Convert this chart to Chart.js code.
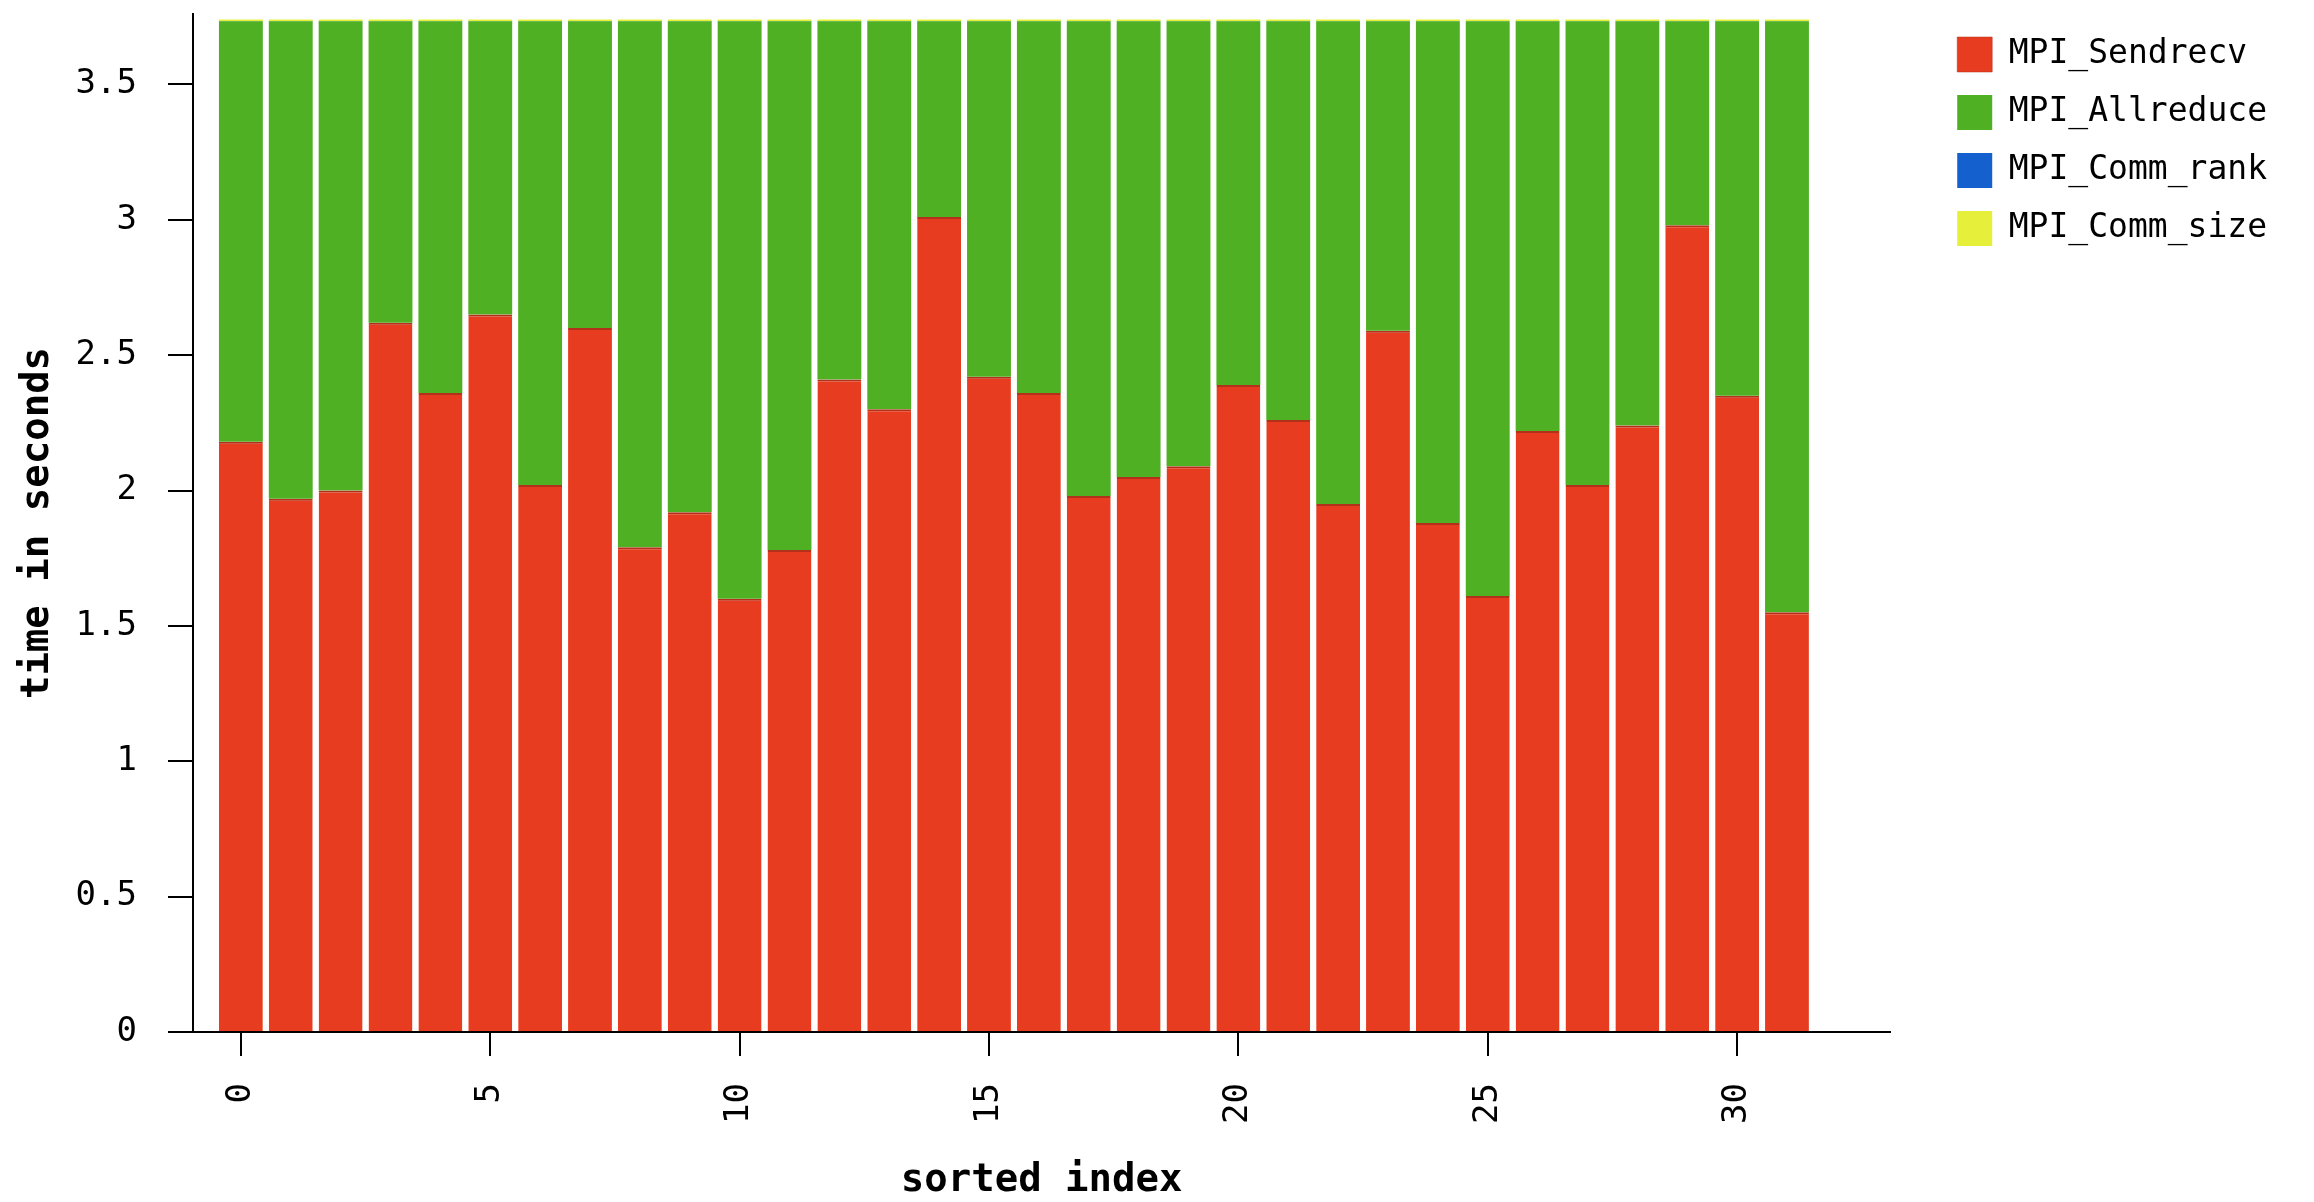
<!DOCTYPE html>
<html>
<head>
<meta charset="utf-8">
<script src="https://cdn.jsdelivr.net/npm/chart.js@4.4.1/dist/chart.umd.min.js"></script>
<style>
  html, body { margin: 0; padding: 0; background: #fff; }
  #wrap { width: 2314px; height: 1202px; position: relative; }
</style>
</head>
<body>
<div id="wrap"><canvas id="barChart"></canvas></div>
<script>
// values (seconds)
var indexes = [0,1,2,3,4,5,6,7,8,9,10,11,12,13,14,15,16,17,18,19,20,21,22,23,24,25,26,27,28,29,30,31];
var sendrecv = [2.18,1.97,2.00,2.62,2.36,2.65,2.02,2.60,1.79,1.92,1.60,1.78,2.41,2.30,3.01,2.42,
                2.36,1.98,2.05,2.09,2.39,2.26,1.95,2.59,1.88,1.61,2.22,2.02,2.24,2.98,2.35,1.55];
var allreduce = [1.553,1.763,1.733,1.113,1.373,1.083,1.713,1.133,1.943,1.813,2.133,1.953,1.323,1.433,0.723,1.313,
                 1.373,1.753,1.683,1.643,1.343,1.473,1.783,1.143,1.853,2.123,1.513,1.713,1.493,0.753,1.383,2.183];
var commRank = [0.001,0.001,0.001,0.001,0.001,0.001,0.001,0.001,0.001,0.001,0.001,0.001,0.001,0.001,0.001,0.001,
                0.001,0.001,0.001,0.001,0.001,0.001,0.001,0.001,0.001,0.001,0.001,0.001,0.001,0.001,0.001,0.001];
var commSize = [0.006,0.006,0.006,0.006,0.006,0.006,0.006,0.006,0.006,0.006,0.006,0.006,0.006,0.006,0.006,0.006,
                0.006,0.006,0.006,0.006,0.006,0.006,0.006,0.006,0.006,0.006,0.006,0.006,0.006,0.006,0.006,0.006];
var xTicks = [0, 5, 10, 15, 20, 25, 30];
var yTicks = [0, 0.5, 1, 1.5, 2, 2.5, 3, 3.5];

function points(values) {
    return values.map(function(v, i) { return { x: indexes[i], y: v }; });
}

var mono = "'DejaVu Sans Mono', 'Liberation Mono', monospace";

var ctx = document.getElementById('barChart').getContext('2d');
var chart = new Chart(ctx, {
    type: 'bar',
    data: {
        datasets: [{
            label: 'MPI_Sendrecv',
            data: points(sendrecv),
            backgroundColor: '#E83C20',
            borderColor: '#B3301A',
            borderWidth: { top: 2, right: 0, bottom: 0, left: 0 },
            borderSkipped: false
        }, {
            label: 'MPI_Allreduce',
            data: points(allreduce),
            backgroundColor: '#4EB022',
            borderWidth: 0
        }, {
            label: 'MPI_Comm_rank',
            data: points(commRank),
            backgroundColor: '#1560CF',
            borderWidth: 0
        }, {
            label: 'MPI_Comm_size',
            data: points(commSize),
            backgroundColor: '#E6F03A',
            borderWidth: 0
        }]
    },
    options: {
        responsive: true,
        maintainAspectRatio: false,
        animation: false,
        devicePixelRatio: 1,
        categoryPercentage: 1.0,
        barPercentage: 0.88,
        layout: { padding: { top: 14, left: 14, right: 37, bottom: 0 } },
        plugins: {
            tooltip: { enabled: false },
            legend: {
                position: 'right',
                align: 'start',
                labels: {
                    boxWidth: 35,
                    boxHeight: 35,
                    padding: 23,
                    color: '#000',
                    font: { family: mono, size: 33 }
                }
            }
        },
        scales: {
            x: {
                type: 'linear',
                stacked: true,
                offset: false,
                min: -0.96,
                max: 33.07,
                afterBuildTicks: function(scale) {
                    scale.ticks = xTicks.map(function(v) { return { value: v }; });
                },
                afterFit: function(scale) {
                    scale.height = 170;
                    scale.paddingLeft = 0;
                    scale.paddingRight = 0;
                },
                grid: { offset: false, drawOnChartArea: false, drawTicks: true, tickLength: 24, color: '#000', lineWidth: 2 },
                border: { display: true, color: '#000', width: 2 },
                ticks: {
                    autoSkip: false,
                    minRotation: 90,
                    maxRotation: 90,
                    padding: 27,
                    color: '#000',
                    font: { family: mono, size: 34 },
                    callback: function(v) { return String(v); }
                },
                title: {
                    display: true,
                    text: 'sorted index',
                    color: '#000',
                    padding: { top: 0, bottom: 2 },
                    font: { family: mono, size: 39, weight: 'bold', lineHeight: 1 }
                }
            },
            y: {
                stacked: true,
                min: 0,
                max: 3.76,
                afterBuildTicks: function(scale) {
                    scale.ticks = yTicks.map(function(v) { return { value: v }; });
                },
                afterFit: function(scale) {
                    scale.width = 179;
                    scale.paddingTop = 0;
                    scale.paddingBottom = 0;
                },
                grid: { drawOnChartArea: false, drawTicks: true, tickLength: 25, color: '#000', lineWidth: 2 },
                border: { display: true, color: '#000', width: 2 },
                ticks: {
                    padding: 31,
                    color: '#000',
                    font: { family: mono, size: 34 },
                    callback: function(v) { return String(v); }
                },
                title: {
                    display: true,
                    text: 'time in seconds',
                    color: '#000',
                    padding: { top: 4, bottom: 4 },
                    font: { family: mono, size: 39, weight: 'bold', lineHeight: 1 }
                }
            },
            gap: {
                type: 'linear',
                position: 'right',
                display: true,
                grid: { display: false, drawTicks: false },
                border: { display: false },
                ticks: { display: false },
                afterFit: function(scale) {
                    scale.width = 44;
                    scale.paddingTop = 0;
                    scale.paddingBottom = 0;
                }
            }
        }
    }
});
</script>
</body>
</html>
